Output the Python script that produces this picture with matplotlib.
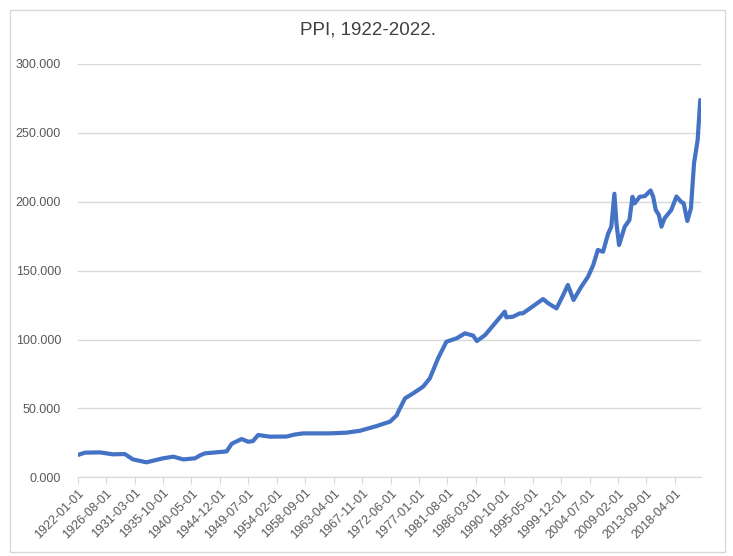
import matplotlib
matplotlib.use("Agg")
import matplotlib.pyplot as plt
from matplotlib.patches import Rectangle
from matplotlib.ticker import FuncFormatter

# PPI values (date -> index level)
dates = [
    "1922-01", "1923-03", "1925-08", "1927-09", "1929-08", "1930-12",
    "1933-02", "1935-10", "1937-06", "1939-01", "1940-12", "1941-10",
    "1942-07", "1946-01", "1946-11", "1948-06", "1949-07", "1950-04",
    "1951-02", "1953-01", "1955-09", "1956-12", "1958-05", "1962-09",
    "1965-05", "1967-07", "1970-03", "1972-05", "1973-06", "1973-09",
    "1974-10", "1976-02", "1977-09", "1978-10", "1980-02", "1981-06",
    "1983-02", "1984-06", "1985-10", "1986-05", "1987-09", "1989-04",
    "1990-11", "1991-02", "1992-03", "1993-04", "1993-10", "1995-06",
    "1997-01", "1997-11", "1999-03", "2000-04", "2001-01", "2001-12",
    "2003-03", "2004-04", "2005-02", "2005-11", "2006-09", "2007-07",
    "2008-01", "2008-07", "2008-11", "2009-04", "2010-03", "2010-12",
    "2011-06", "2011-10", "2012-08", "2013-06", "2014-05", "2014-10",
    "2015-03", "2015-09", "2016-02", "2016-08", "2017-09", "2018-07",
    "2019-04", "2019-09", "2020-04", "2020-11", "2021-05", "2021-12",
    "2022-05",
]
ppi = [
    16.2, 17.9, 18.1, 16.7, 16.9, 13.0,
    10.9, 13.8, 15.0, 13.0, 13.8, 16.0,
    17.4, 18.8, 24.4, 27.8, 25.8, 26.3,
    30.7, 29.5, 29.6, 31.0, 31.9, 31.9,
    32.4, 33.8, 37.2, 40.4, 45.0, 47.6,
    57.3, 61.0, 65.8, 71.8, 86.4, 98.4,
    100.9, 104.5, 102.8, 98.9, 103.3, 111.8,
    120.2, 116.1, 116.6, 119.0, 119.0, 124.3,
    129.4, 126.3, 122.6, 132.3, 139.6, 128.7,
    138.3, 145.6, 154.0, 165.0, 163.7, 177.0,
    181.9, 205.8, 184.3, 168.6, 181.9, 186.7,
    203.6, 198.8, 203.6, 204.1, 208.2, 203.6,
    194.0, 190.4, 181.9, 188.0, 194.0, 203.8,
    200.0, 198.8, 186.0, 195.2, 227.9, 244.8,
    273.8,
]

# category labels shown on the x axis (every 55 months)
tick_labels = [
    "1922-01-01", "1926-08-01", "1931-03-01", "1935-10-01", "1940-05-01",
    "1944-12-01", "1949-07-01", "1954-02-01", "1958-09-01", "1963-04-01",
    "1967-11-01", "1972-06-01", "1977-01-01", "1981-08-01", "1986-03-01",
    "1990-10-01", "1995-05-01", "1999-12-01", "2004-07-01", "2009-02-01",
    "2013-09-01", "2018-04-01",
]


def month_index(s):
    y, m = s.split("-")[:2]
    return (int(y) - 1922) * 12 + int(m) - 1


x = [month_index(d) for d in dates]
tick_pos = [month_index(t) for t in tick_labels]

plt.rcParams["font.family"] = ["Liberation Sans", "DejaVu Sans"]
txt_color = "#595959"

fig = plt.figure(figsize=(7.33, 5.56), dpi=100)
ax = fig.add_axes([0.106, 0.1415, 0.850, 0.7435])

# chart area border
fig.patches.append(Rectangle((10 / 733, 4 / 556), 715 / 733, 542 / 556,
                             transform=fig.transFigure, fill=False,
                             edgecolor="#D9D9D9", linewidth=1))

ax.plot(x, ppi, color="#4472C4", linewidth=3.0, solid_joinstyle="round",
        solid_capstyle="round", zorder=3)

ax.set_xlim(0, 1205)
ax.set_ylim(0, 300)
ax.set_yticks(range(0, 301, 50))
ax.yaxis.set_major_formatter(FuncFormatter(lambda v, p: f"{v:.3f}"))
ax.grid(axis="y", color="#D9D9D9", linewidth=1)
ax.set_axisbelow(True)

ax.set_xticks(tick_pos)
ax.set_xticklabels(tick_labels, rotation=45, ha="right", rotation_mode="anchor")

for s in ["top", "right", "left"]:
    ax.spines[s].set_visible(False)
ax.spines["bottom"].set_color("#D9D9D9")
ax.tick_params(axis="y", length=0, labelsize=9, labelcolor=txt_color, pad=12)
ax.tick_params(axis="x", length=5, color="#D9D9D9", labelsize=9,
               labelcolor=txt_color, pad=2)

fig.suptitle("PPI, 1922-2022.", x=0.502, y=0.962, fontsize=13.5,
             color="#404040")

fig.savefig("out.png", dpi=100)
